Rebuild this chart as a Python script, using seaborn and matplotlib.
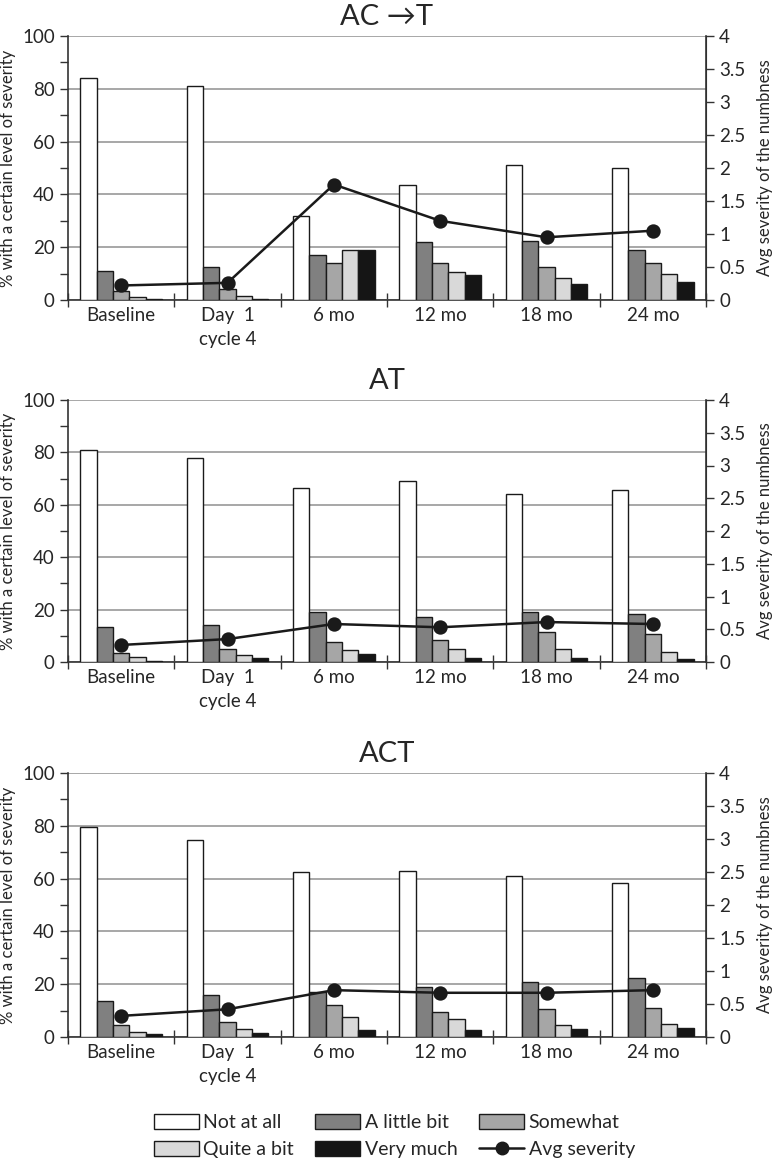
import numpy as np
import pandas as pd
import matplotlib
matplotlib.use("Agg")
import matplotlib.pyplot as plt
from matplotlib.patches import Patch
from matplotlib.lines import Line2D
import seaborn as sns

# ---- data ----
timepoints = ["Baseline", "Day  1\ncycle 4", "6 mo", "12 mo", "18 mo", "24 mo"]
levels = ["Not at all", "A little bit", "Somewhat", "Quite a bit", "Very much"]
level_colors = ["#ffffff", "#808080", "#a6a6a6", "#d9d9d9", "#151515"]

# AC -> T
act_seq_not = [84, 81, 32, 43.5, 51, 50]
act_seq_little = [11, 12.5, 17, 22, 22.5, 19]
act_seq_some = [3.5, 4, 14, 14, 12.5, 14]
act_seq_quite = [1, 1.5, 19, 10.5, 8.5, 10]
act_seq_very = [0.5, 0.3, 19, 9.5, 6, 7]
act_seq_avg = [0.22, 0.26, 1.75, 1.2, 0.95, 1.05]

# AT
at_not = [81, 78, 66.5, 69, 64, 65.5]
at_little = [13.5, 14, 19, 17, 19, 18.5]
at_some = [3.5, 5, 7.5, 8.5, 11.5, 10.5]
at_quite = [2, 2.5, 4.5, 5, 5, 4]
at_very = [0.5, 1.5, 3, 1.5, 1.5, 1]
at_avg = [0.26, 0.35, 0.58, 0.53, 0.61, 0.58]

# ACT
act_not = [79.5, 74.5, 62.5, 63, 61, 58.5]
act_little = [13.5, 16, 17, 19, 21, 22.5]
act_some = [4.5, 5.5, 12, 9.5, 10.5, 11]
act_quite = [2, 3, 7.5, 7, 4.5, 5]
act_very = [1, 1.5, 2.5, 2.5, 3, 3.5]
act_avg = [0.32, 0.42, 0.71, 0.67, 0.67, 0.71]

panels = [
    ("AC \u2192T", [act_seq_not, act_seq_little, act_seq_some, act_seq_quite, act_seq_very], act_seq_avg),
    ("AT", [at_not, at_little, at_some, at_quite, at_very], at_avg),
    ("ACT", [act_not, act_little, act_some, act_quite, act_very], act_avg),
]

sns.set_style("white")
plt.rcParams["font.family"] = ["Lato", "DejaVu Sans"]

fig = plt.figure(figsize=(7.81, 11.62), dpi=100)

# axes boxes in pixels (top, bottom) of the plotting area
boxes = [(36, 300), (400, 662), (773, 1037)]
left_px, right_px = 68, 706
W, H = 781, 1162

for (title, series, avg), (top, bot) in zip(panels, boxes):
    ax = fig.add_axes([left_px / W, 1 - bot / H, (right_px - left_px) / W, (bot - top) / H])

    rows = []
    for lvl, vals in zip(levels, series):
        for tp, v in zip(timepoints, vals):
            rows.append({"time": tp, "level": lvl, "pct": v})
    df = pd.DataFrame(rows)

    sns.barplot(data=df, x="time", y="pct", hue="level", order=timepoints,
                hue_order=levels, palette=level_colors, width=0.77, gap=0,
                edgecolor="#1a1a1a", linewidth=1.0, legend=False, ax=ax, zorder=3)

    ax.set_ylim(0, 100)
    ax.set_xlim(-0.5, len(timepoints) - 0.5)
    ax.set_yticks(np.arange(0, 101, 20))
    ax.set_yticks(np.arange(0, 101, 10), minor=True)
    ax.yaxis.grid(True, color="#a0a0a0", linewidth=1.3, zorder=0)
    ax.set_axisbelow(True)
    ax.tick_params(axis="y", which="both", direction="out", length=6, width=1,
                   labelsize=13.5, color="#333333", left=True)
    ax.set_ylabel("% with a certain level of severity", fontsize=12)
    ax.set_xlabel("")

    # x ticks at category boundaries, labels in the middle
    ax.set_xticks(np.arange(-0.5, len(timepoints), 1.0))
    ax.set_xticklabels([])
    ax.set_xticks(np.arange(len(timepoints)), minor=True)
    ax.set_xticklabels(timepoints, minor=True, fontsize=13.5, linespacing=1.5)
    ax.tick_params(axis="x", which="major", direction="inout", length=10, width=1,
                   color="#333333", bottom=True)
    ax.tick_params(axis="x", which="minor", length=0, pad=5)

    for side in ["left", "bottom"]:
        ax.spines[side].set_color("#333333")
        ax.spines[side].set_linewidth(1.2)
    ax.spines["top"].set_visible(False)

    ax2 = ax.twinx()
    sns.pointplot(x=timepoints, y=avg, color="#1a1a1a", markers="o",
                  markersize=9, linewidth=1.8, ax=ax2)
    ax2.set_ylim(0, 4)
    ax2.set_xlim(-0.5, len(timepoints) - 0.5)
    ax2.set_yticks(np.arange(0, 4.01, 0.5))
    ax2.set_yticklabels(["0", "0.5", "1", "1.5", "2", "2.5", "3", "3.5", "4"])
    ax2.tick_params(axis="y", direction="out", length=6, width=1, labelsize=13.5,
                    color="#333333", right=True)
    ax2.set_ylabel("Avg severity of the numbness", fontsize=12, labelpad=8)
    ax2.spines["right"].set_color("#333333")
    ax2.spines["right"].set_linewidth(1.2)
    ax2.spines["top"].set_visible(False)
    ax2.spines["left"].set_visible(False)
    ax2.spines["bottom"].set_visible(False)
    ax2.grid(False)

    ax.set_title(title, fontsize=21, pad=8)

# legend (row-major order in a 3-column layout)
patches = {lvl: Patch(facecolor=c, edgecolor="#1a1a1a", linewidth=1.0)
           for lvl, c in zip(levels, level_colors)}
line_handle = Line2D([], [], color="#1a1a1a", marker="o", markersize=9, linewidth=1.8)
handles = [patches["Not at all"], patches["Quite a bit"], patches["A little bit"],
           patches["Very much"], patches["Somewhat"], line_handle]
labels = ["Not at all", "Quite a bit", "A little bit", "Very much", "Somewhat", "Avg severity"]
fig.legend(handles, labels, ncol=3, loc="center", bbox_to_anchor=(0.505, 1 - 1136 / H),
           frameon=False, fontsize=14, handlelength=2.3, handleheight=0.8,
           columnspacing=1.1, handletextpad=0.25, labelspacing=0.5)

fig.savefig("out.png", dpi=100)
